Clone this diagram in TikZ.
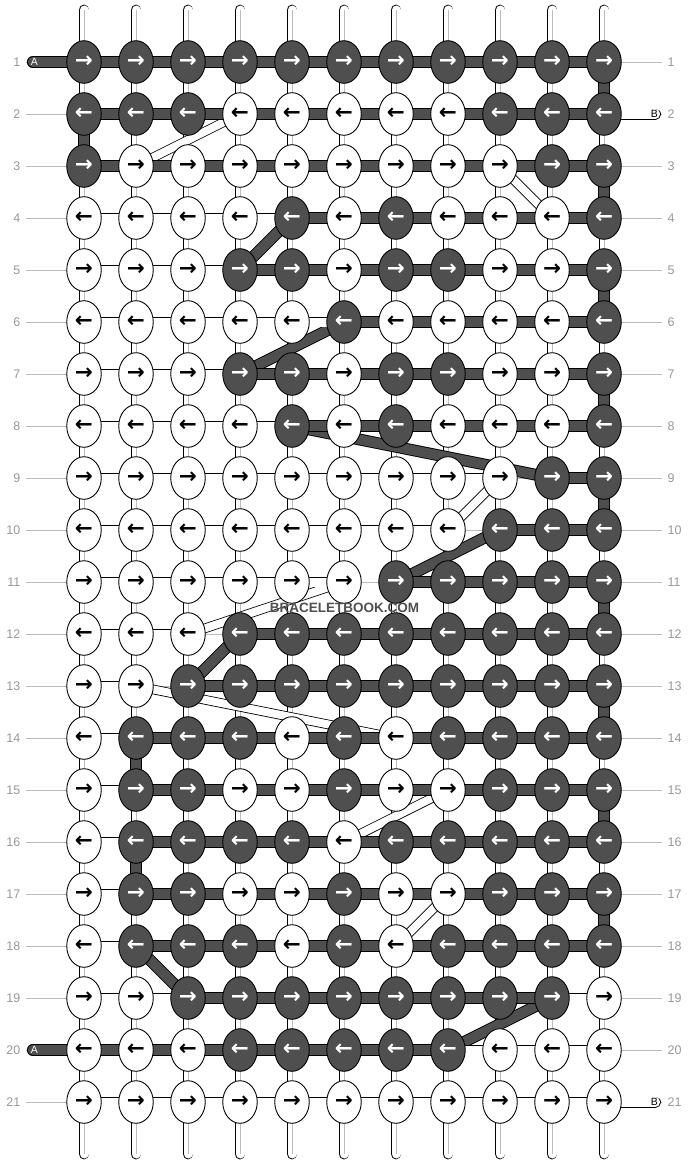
\documentclass[tikz,border=0pt]{standalone}
\usepackage{fontspec}
\setmainfont{Liberation Sans}
\newfontfamily\arrfont{DejaVu Sans}
\usetikzlibrary{shapes.geometric}
\pgfdeclarelayer{l0}
\pgfdeclarelayer{l1}
\pgfdeclarelayer{l2}
\pgfdeclarelayer{l3}
\pgfsetlayers{l0,l1,l2,l3,main}
\definecolor{dk}{HTML}{4F4F4F}
\definecolor{lbl}{HTML}{999999}
\definecolor{rowgray}{HTML}{BBBBBB}
\definecolor{cgray}{HTML}{BDBDBD}
\tikzset{
  knotD/.style={ellipse, draw=black, line width=0.9pt, fill=dk, text=white, minimum width=34.5pt, minimum height=42.6pt, inner sep=0pt, font=\arrfont\bfseries\fontsize{21.5}{21.5}\selectfont},
  knotW/.style={knotD, fill=white, text=black},
  dstr/.style={draw=black, line width=0.9pt, double=dk, double distance=10pt},
  wstr/.style={draw=black, line width=0.9pt, double=white, double distance=9pt},
  wdiag/.style={draw=black, line width=0.8pt, double=white, double distance=8pt},
  stubout/.style={draw=black, line width=11pt, line cap=round},
  stubin/.style={draw=white, line width=9.2pt, line cap=round},
  cline/.style={draw=cgray, line width=0.7pt},
  rowline/.style={draw=rowgray, line width=0.8pt},
  rowlab/.style={text=lbl, font=\fontsize{12.5}{13}\selectfont, inner sep=0pt},
  endlab/.style={font=\fontsize{10.5}{11}\selectfont, inner sep=0pt},
  wmark/.style={text=dk, font=\bfseries\fontsize{13.5}{14}\selectfont, inner sep=0pt},
}
\begin{document}
\begin{tikzpicture}[x=1pt,y=-1pt]
\useasboundingbox (0,0) rectangle (688,1164);
\begin{pgfonlayer}{l0}
\fill[white] (0,0) rectangle (688,1164);
\end{pgfonlayer}

\foreach \r/\L/\H in {
 1/{1,1,1,1,1,1,1,1,1,1,1}/{D,D,D,D,D,D,D,D,D,D},
 2/{1,1,1,0,0,0,0,0,1,1,1}/{D,D,D,D,D,D,D,D,D,D},
 3/{1,0,0,0,0,0,0,0,0,1,1}/{D,D,D,D,D,D,D,D,D,D},
 4/{0,0,0,0,1,0,1,0,0,0,1}/{W,W,W,W,D,D,D,D,D,D},
 5/{0,0,0,1,1,0,1,1,0,0,1}/{W,W,W,D,D,D,D,D,D,D},
 6/{0,0,0,0,0,1,0,0,0,0,1}/{W,W,W,W,W,D,D,D,D,D},
 7/{0,0,0,1,1,0,1,1,0,0,1}/{W,W,W,D,D,D,D,D,D,D},
 8/{0,0,0,0,1,0,1,0,0,0,1}/{W,W,W,W,D,D,D,D,D,D},
 9/{0,0,0,0,0,0,0,0,0,1,1}/{W,W,W,W,W,W,W,W,N,D},
 10/{0,0,0,0,0,0,0,0,1,1,1}/{W,W,W,W,W,W,W,N,D,D},
 11/{0,0,0,0,0,0,1,1,1,1,1}/{W,W,W,W,W,N,D,D,D,D},
 12/{0,0,0,1,1,1,1,1,1,1,1}/{W,W,N,D,D,D,D,D,D,D},
 13/{0,0,1,1,1,1,1,1,1,1,1}/{W,N,D,D,D,D,D,D,D,D},
 14/{0,1,1,1,0,1,0,1,1,1,1}/{W,D,D,D,D,D,D,D,D,D},
 15/{0,1,1,0,0,1,0,0,1,1,1}/{W,D,D,D,D,D,D,D,D,D},
 16/{0,1,1,1,1,0,1,1,1,1,1}/{W,D,D,D,D,D,D,D,D,D},
 17/{0,1,1,0,0,1,0,0,1,1,1}/{W,D,D,D,D,D,D,D,D,D},
 18/{0,1,1,1,0,1,0,1,1,1,1}/{W,D,D,D,D,D,D,D,D,D},
 19/{0,0,1,1,1,1,1,1,1,1,0}/{W,W,D,D,D,D,D,D,D,W},
 20/{0,0,0,1,1,1,1,1,0,0,0}/{D,D,D,D,D,D,D,W,W,W},
 21/{0,0,0,0,0,0,0,0,0,0,0}/{W,W,W,W,W,W,W,W,W,W}}{
  \pgfmathtruncatemacro\yy{62+52*(\r-1)}
  \pgfmathtruncatemacro\odd{mod(\r,2)}
  \ifnum\odd=1 \gdef\arr{→}\else\gdef\arr{←}\fi
  \foreach \v [count=\c] in \L {
    \pgfmathtruncatemacro\xx{84+52*(\c-1)}
    \ifnum\v=1
      \node[knotD] (n-\r-\c) at (\xx,\yy) {\arr};
    \else
      \node[knotW] (n-\r-\c) at (\xx,\yy) {\arr};
    \fi
  }
  \node[rowlab, anchor=east] (ll-\r) at (20.5,\yy) {\r};
  \node[rowlab, anchor=west] (lr-\r) at (667.5,\yy) {\r};
  \coordinate (gl-\r) at (26,\yy);
  \coordinate (gr-\r) at (662,\yy);
  \begin{pgfonlayer}{l0}
    \draw[rowline] (gl-\r) -- (gr-\r);
  \end{pgfonlayer}
  \begin{pgfonlayer}{l3}
  \foreach \h [count=\c] in \H {
    \pgfmathtruncatemacro\cc{\c+1}
    \if\h D\draw[dstr] (n-\r-\c.center) -- (n-\r-\cc.center);\fi
    \if\h W\draw[wstr] (n-\r-\c.center) -- (n-\r-\cc.center);\fi
  }
  \end{pgfonlayer}
}

% vertical strings
\begin{pgfonlayer}{l1}
\foreach \c in {1,...,11}{
  \pgfmathtruncatemacro\xx{84+52*(\c-1)}
  \coordinate (top-\c) at (\xx,10);
  \coordinate (bot-\c) at (\xx,1154);
  \draw[wstr, line cap=round] (top-\c) -- (n-1-\c.center);
  \draw[cline] (top-\c) -- (n-1-\c.center);
  \draw[wstr, line cap=round] (n-21-\c.center) -- (bot-\c);
  \draw[cline] (n-21-\c.center) -- (bot-\c);
  \foreach \r in {1,...,20}{
    \pgfmathtruncatemacro\rr{\r+1}
    \pgfmathtruncatemacro\dv{((\c==11)&&(mod(\r,2)==1)&&(\r<18)) || ((\c==1)&&(\r==2)) || ((\c==2)&&((\r==14)||(\r==16)))}
    \ifnum\dv=1
      \draw[dstr] (n-\r-\c.center) -- (n-\rr-\c.center);
    \else
      \draw[wstr] (n-\r-\c.center) -- (n-\rr-\c.center);
      \draw[cline] (n-\r-\c.center) -- (n-\rr-\c.center);
    \fi
  }
}
\end{pgfonlayer}

% diagonal strings
\begin{pgfonlayer}{l2}
\foreach \a/\b in {2-4/3-2, 3-9/4-10, 9-9/10-8, 11-6/12-3, 13-2/14-7, 15-8/16-6, 17-8/18-7}
  \draw[wdiag] (n-\a.center) -- (n-\b.center);
\foreach \a/\b in {4-5/5-4, 6-6/7-4, 8-5/9-10, 10-9/11-7, 12-4/13-3, 18-2/19-3, 19-10/20-8}
  \draw[dstr] (n-\a.center) -- (n-\b.center);
\end{pgfonlayer}

% end stubs
\coordinate (aL1) at (32.8,62);
\coordinate (aL20) at (32.8,1050);
\coordinate (bR2) at (655.5,114);
\coordinate (bR21) at (655.5,1102);
\begin{pgfonlayer}{l3}
\draw[dstr, line cap=round] (aL1) -- (n-1-1.center);
\draw[dstr, line cap=round] (aL20) -- (n-20-1.center);
\draw[stubout] (n-2-11.center) -- (bR2);
\draw[stubin] (n-2-11.center) -- (bR2);
\draw[stubout] (n-21-11.center) -- (bR21);
\draw[stubin] (n-21-11.center) -- (bR21);
\end{pgfonlayer}
\node[endlab, text=white] (la1) at (34.5,62) {A};
\node[endlab, text=white] (la20) at (34.5,1050) {A};
\node[endlab, text=black] (lb2) at (654.3,114) {B};
\node[endlab, text=black] (lb21) at (654.3,1102) {B};

\node[wmark] (wm) at (344.5,608) {BRACELETBOOK.COM};
\end{tikzpicture}
\end{document}
